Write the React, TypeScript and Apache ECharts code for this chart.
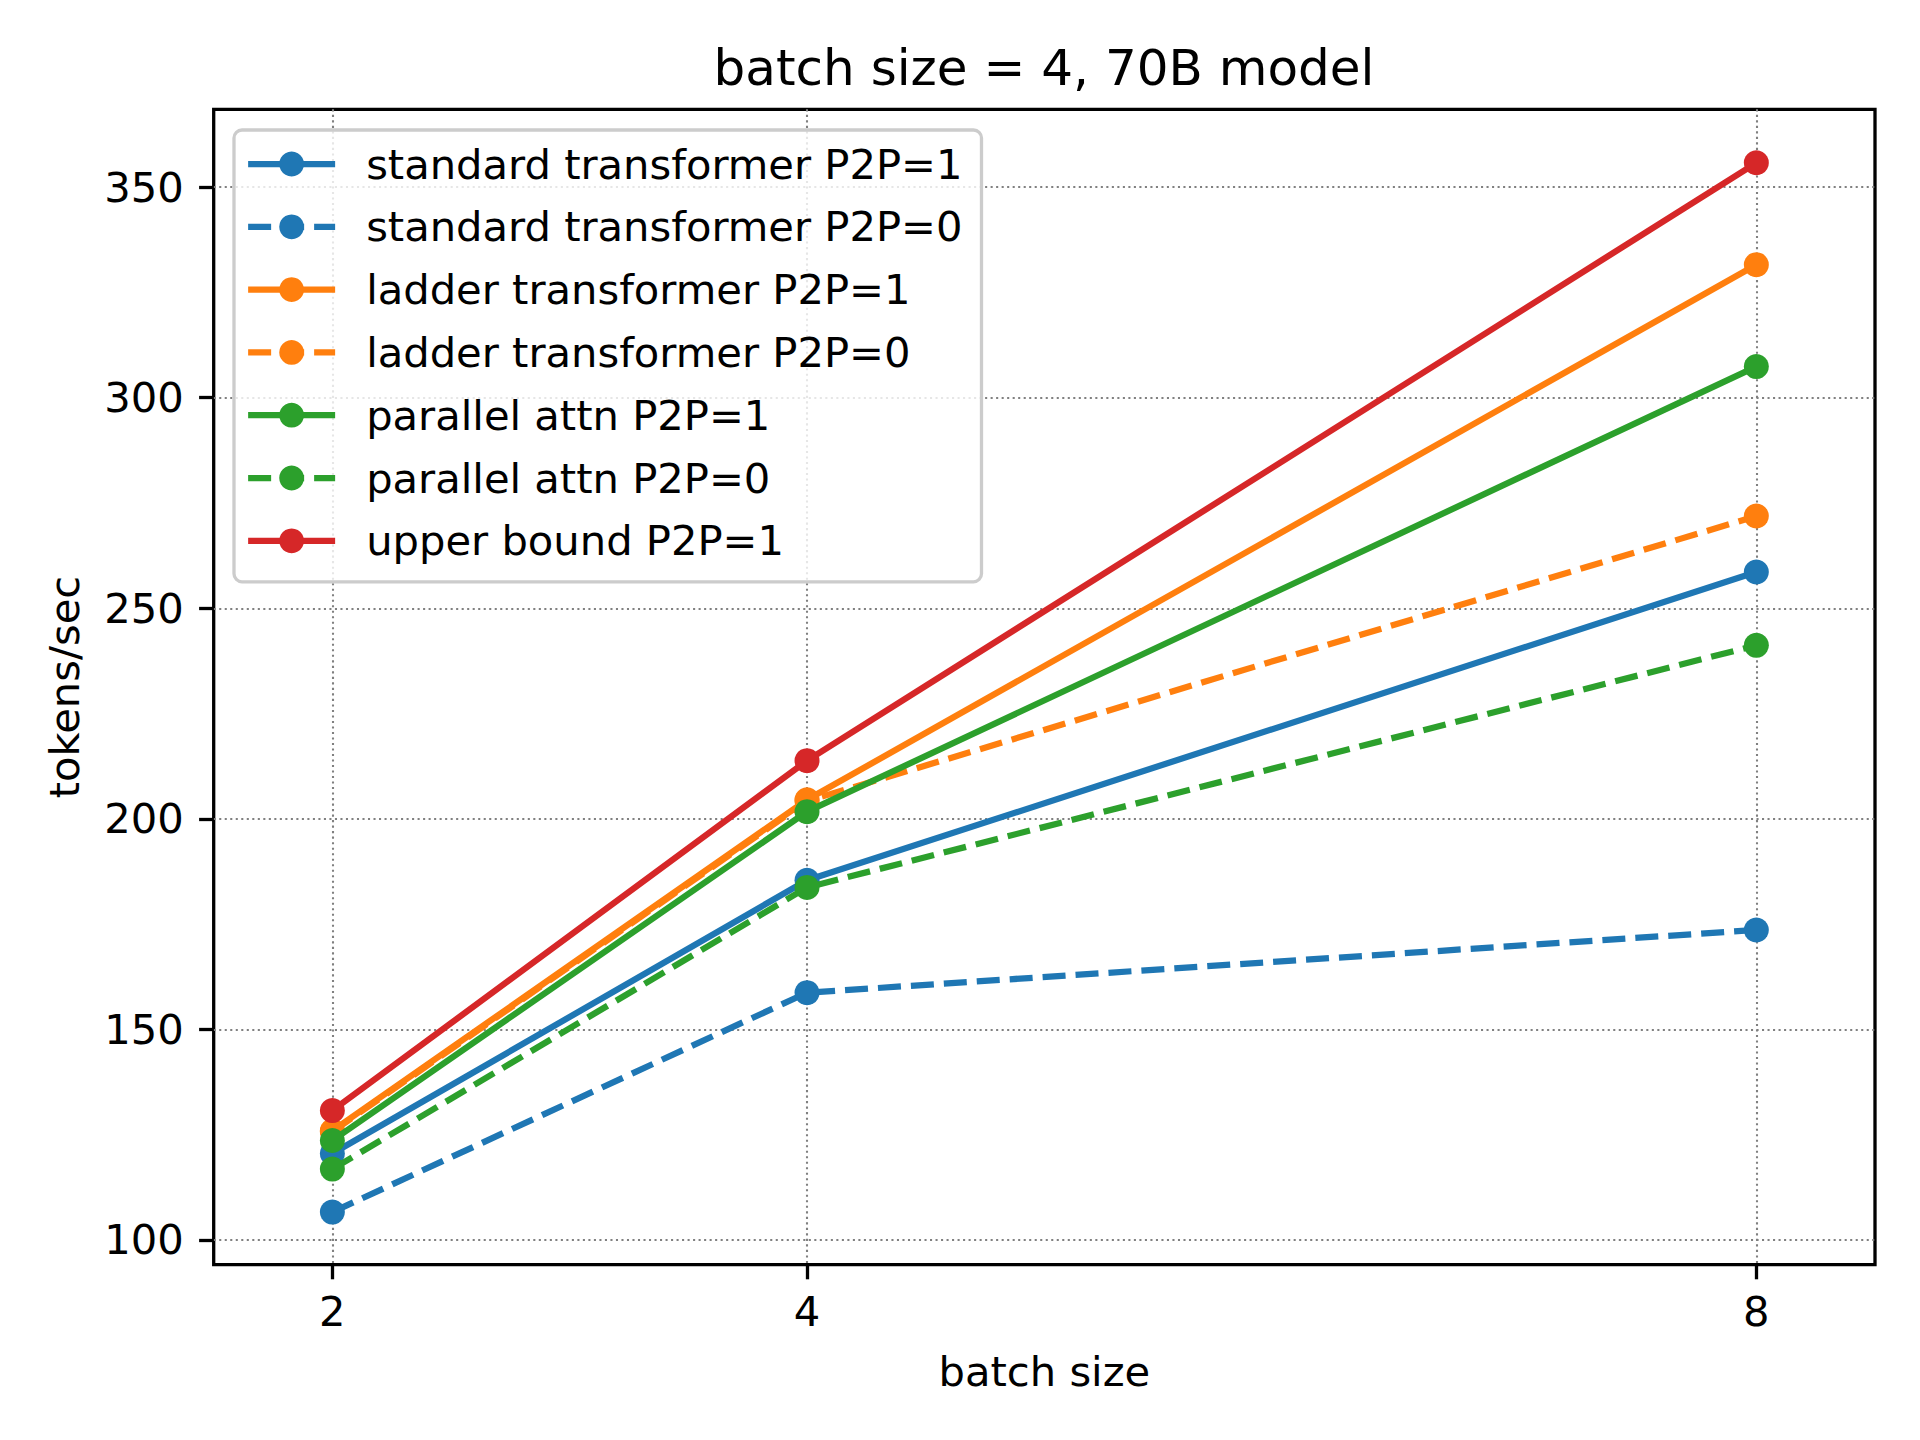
import React, { useEffect, useRef } from "react";
import * as echarts from "echarts";

const batchSizes = [2, 4, 8];
const xTicks = [2, 4, 8];
const yTicks = [100, 150, 200, 250, 300, 350];

const seriesNames = [
  "standard transformer P2P=1",
  "standard transformer P2P=0",
  "ladder transformer P2P=1",
  "ladder transformer P2P=0",
  "parallel attn P2P=1",
  "parallel attn P2P=0",
  "upper bound P2P=1",
];
const standardP2P1 = [120.5, 185.4, 258.6];
const standardP2P0 = [106.6, 158.7, 173.6];
const ladderP2P1 = [125.9, 204.5, 331.6];
const ladderP2P0 = [125.7, 204.2, 271.9];
const parallelP2P1 = [123.6, 201.7, 307.4];
const parallelP2P0 = [116.8, 183.7, 241.2];
const upperBoundP2P1 = [130.7, 213.8, 355.8];

const seriesValues = [
  standardP2P1,
  standardP2P0,
  ladderP2P1,
  ladderP2P0,
  parallelP2P1,
  parallelP2P0,
  upperBoundP2P1,
];
const seriesColors = ["#1f77b4", "#1f77b4", "#ff7f0e", "#ff7f0e", "#2ca02c", "#2ca02c", "#d62728"];
const seriesDashed = [false, true, false, true, false, true, false];

const FONT = "DejaVu Sans";
const FS = 41.67;
const LW = 6.25;
const DASH = [23, 10];

export default function App() {
  const ref = useRef<HTMLDivElement>(null);
  useEffect(() => {
    document.body.style.margin = "0";
    const chart = echarts.init(ref.current!, null, { renderer: "svg" });
    const series = seriesNames.map((name, i) => ({
      name,
      type: "line",
      data: batchSizes.map((x, j) => [x, seriesValues[i][j]]),
      symbol: "circle",
      symbolSize: 25,
      color: seriesColors[i],
      itemStyle: { color: seriesColors[i], borderWidth: 0 },
      lineStyle: {
        color: seriesColors[i],
        width: LW,
        type: seriesDashed[i] ? DASH : "solid",
      },
      emphasis: { disabled: true },
      z: 3 + i,
    }));
    chart.setOption({
      animation: false,
      backgroundColor: "#ffffff",
      title: {
        text: "batch size = 4, 70B model",
        left: 1039,
        top: 38,
        textAlign: "center",
        textStyle: {
          fontFamily: FONT,
          fontSize: 50,
          fontWeight: "normal",
          color: "#000000",
          lineHeight: 50,
        },
      },
      grid: {
        left: 213.7,
        right: 45,
        top: 109.3,
        bottom: 175.3,
        show: true,
        borderColor: "#000000",
        borderWidth: 3.3,
        backgroundColor: "transparent",
        containLabel: false,
      },
      legend: {
        orient: "vertical",
        left: 234,
        top: 130,
        padding: [13, 19, 20, 11],
        itemGap: 20.8,
        itemWidth: 87,
        itemHeight: 31,
        backgroundColor: "rgba(255,255,255,0.8)",
        borderColor: "#cccccc",
        borderWidth: 3.3,
        borderRadius: 8,
        selectedMode: false,
        textStyle: {
          fontFamily: FONT,
          fontSize: FS,
          color: "#000000",
          lineHeight: 42,
          padding: [0, 0, 0, 26],
        },
        data: seriesNames.map((name, i) => ({
          name,
          lineStyle: {
            width: LW,
            color: seriesColors[i],
            type: seriesDashed[i] ? DASH : "solid",
          },
        })),
      },
      xAxis: {
        type: "value",
        min: 1.5,
        max: 8.5,
        name: "batch size",
        nameLocation: "middle",
        nameGap: 86,
        nameTextStyle: { fontFamily: FONT, fontSize: FS, color: "#000000", lineHeight: 42 },
        axisLine: { show: false },
        axisTick: {
          show: true,
          inside: false,
          length: 14.6,
          lineStyle: { color: "#000000", width: 3.3 },
          customValues: xTicks,
        },
        axisLabel: {
          fontFamily: FONT,
          fontSize: FS,
          color: "#000000",
          margin: 26,
          lineHeight: 42,
          customValues: xTicks,
        },
        splitLine: {
          show: true,
          lineStyle: { color: "#808080", width: 2.08, type: [2.08, 3.43] },
        },
      },
      yAxis: {
        type: "value",
        min: 94.1,
        max: 368.5,
        name: "tokens/sec",
        nameLocation: "middle",
        nameRotate: 90,
        nameGap: 128,
        nameTextStyle: { fontFamily: FONT, fontSize: FS, color: "#000000", lineHeight: 42 },
        axisLine: { show: false },
        axisTick: {
          show: true,
          inside: false,
          length: 14.6,
          lineStyle: { color: "#000000", width: 3.3 },
          customValues: yTicks,
        },
        axisLabel: {
          fontFamily: FONT,
          fontSize: FS,
          color: "#000000",
          margin: 30,
          customValues: yTicks,
        },
        splitLine: {
          show: true,
          lineStyle: { color: "#808080", width: 2.08, type: [2.08, 3.43] },
        },
      },
      series,
    });
    return () => chart.dispose();
  }, []);
  return <div ref={ref} style={{ width: 1920, height: 1440 }} />;
}
